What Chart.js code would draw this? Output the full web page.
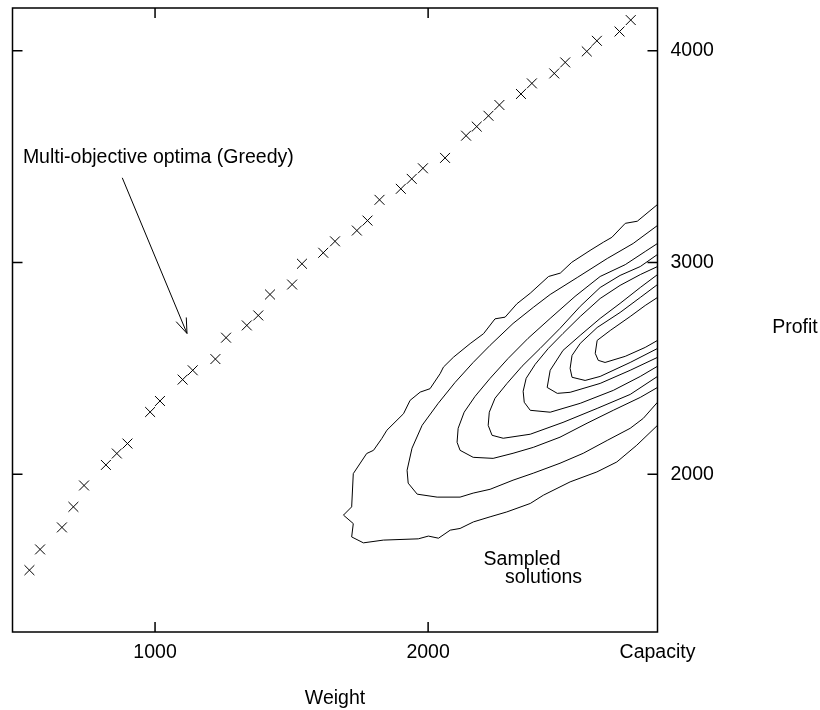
<!DOCTYPE html>
<html>
<head>
<meta charset="utf-8">
<title>Greedy optima vs sampled solutions</title>
<script src="https://cdn.jsdelivr.net/npm/chart.js@4.4.1/dist/chart.umd.min.js"></script>
<style>
  html, body { margin: 0; padding: 0; background: #fff; }
  #wrap { width: 820px; height: 710px; }
</style>
</head>
<body>
<div id="wrap"><canvas id="chart" width="820" height="710"></canvas></div>
<script>
// Axis ranges and ticks
const X_MIN = 478;
const CAPACITY = 2840;
const Y_MIN = 1255;
const Y_MAX = 4202;
const weightTicks = [1000, 2000, CAPACITY];
const profitTicks = [2000, 3000, 4000];

// Multi-objective optima found by the greedy method
const greedyWeight = [540, 579, 659, 701, 740, 820, 860, 899, 982, 1018,
    1101, 1138, 1221, 1260, 1336, 1378, 1421, 1502, 1538, 1616,
    1659, 1739, 1778, 1822, 1900, 1940, 1981, 2062, 2139, 2178,
    2221, 2261, 2340, 2380, 2462, 2502, 2581, 2618, 2701, 2742];
const greedyProfit = [1547, 1645, 1749, 1846, 1947, 2044, 2098, 2145, 2294, 2346,
    2447, 2491, 2544, 2645, 2703, 2750, 2849, 2896, 2994, 3046,
    3100, 3151, 3198, 3296, 3348, 3395, 3445, 3494, 3599, 3642,
    3693, 3744, 3796, 3846, 3893, 3945, 3997, 4047, 4091, 4145];

// Density contours of the sampled solutions, outer to inner, [weight, profit]
const contour1 = [[2840,3274],[2766,3195],[2722,3185],[2673,3119],[2642,3096],[2593,3057],[2526,3001],[2484,2950],
    [2441,2934],[2374,2855],[2325,2805],[2282,2742],[2245,2734],[2203,2664],[2154,2617],[2093,2553],[2056,2506],
    [2044,2475],[2007,2404],[1971,2388],[1934,2349],[1910,2286],[1849,2208],[1830,2168],[1800,2113],[1775,2098],
    [1726,2003],[1720,1846],[1690,1807],[1726,1767],[1720,1704],[1763,1676],[1836,1689],[1964,1695],[2001,1708],
    [2038,1698],[2081,1736],[2117,1744],[2166,1775],[2227,1799],[2288,1822],[2374,1862],[2422,1901],[2520,1964],
    [2618,2011],[2691,2058],[2764,2137],[2840,2231]];
const contour2 = [[2840,3175],[2751,3090],[2656,3019],[2546,2929],[2447,2849],[2385,2788],[2311,2712],[2227,2609],
    [2165,2528],[2099,2434],[2037,2335],[1978,2231],[1941,2123],[1923,2019],[1927,1958],[1960,1906],[2033,1892],
    [2117,1892],[2165,1911],[2227,1929],[2311,1972],[2385,2005],[2483,2052],[2568,2099],[2656,2160],[2740,2217],
    [2788,2264],[2840,2340]];
const contour3 = [[2840,3090],[2795,3052],[2722,2990],[2630,2934],[2538,2840],[2447,2736],[2366,2642],[2293,2547],
    [2227,2453],[2172,2368],[2132,2293],[2110,2217],[2106,2151],[2117,2113],[2165,2080],[2238,2075],[2311,2099],
    [2385,2127],[2483,2175],[2582,2241],[2678,2302],[2777,2363],[2840,2410]];
const contour4 = [[2840,3038],[2777,2981],[2703,2939],[2630,2882],[2557,2793],[2483,2689],[2410,2594],[2344,2510],
    [2289,2429],[2245,2359],[2224,2293],[2220,2231],[2234,2184],[2275,2170],[2374,2189],[2494,2245],[2619,2311],
    [2740,2377],[2840,2462]];
const contour5 = [[2840,2981],[2777,2943],[2703,2892],[2630,2830],[2557,2745],[2494,2665],[2440,2594],[2392,2519],
    [2359,2453],[2348,2392],[2352,2340],[2374,2302],[2447,2293],[2557,2335],[2678,2396],[2777,2462],[2840,2510]];
const contour6 = [[2840,2943],[2777,2882],[2703,2807],[2630,2736],[2557,2656],[2494,2585],[2447,2491],[2436,2410],
    [2473,2382],[2520,2387],[2630,2429],[2740,2491],[2840,2552]];
const contour7 = [[2840,2896],[2777,2835],[2703,2764],[2619,2693],[2557,2618],[2527,2561],[2520,2500],[2527,2458],
    [2575,2443],[2630,2462],[2740,2528],[2840,2594]];
const contour8 = [[2840,2835],[2795,2797],[2740,2745],[2667,2679],[2619,2632],[2612,2571],[2623,2538],[2648,2528],
    [2722,2557],[2795,2599],[2840,2632]];

// Annotation anchors in data units
const arrowFrom = [880, 3400];
const arrowTo = [1117, 2665];
const greedyLabelAt = [516, 3495];
const sampledLabelAt = [2203, 1599];
const solutionsLabelAt = [2282, 1512];

const FONT = "'Liberation Sans', Arial, Helvetica, sans-serif";
const FONT_SIZE = 19.5;
const TICK = 10;

Chart.defaults.font.family = FONT;
Chart.defaults.font.size = FONT_SIZE;
Chart.defaults.color = '#000';

const contours = [contour1, contour2, contour3, contour4, contour5, contour6, contour7, contour8];

const datasets = contours.map((c, i) => ({
    label: 'Contour ' + (i + 1),
    data: c.map(p => ({ x: p[0], y: p[1] })),
    showLine: true,
    borderColor: '#000',
    borderWidth: 1,
    pointRadius: 0,
    fill: false,
    tension: 0
}));

datasets.push({
    label: 'Multi-objective optima (Greedy)',
    data: greedyWeight.map((w, i) => ({ x: w, y: greedyProfit[i] })),
    showLine: false,
    pointStyle: 'crossRot',
    pointRadius: 7,
    borderColor: '#000',
    borderWidth: 1
});

// Frame with inward tick marks on all sides
const frame = {
    id: 'frame',
    afterDatasetsDraw(chart) {
        const { ctx, chartArea: a, scales: { x, y } } = chart;
        ctx.save();
        ctx.strokeStyle = '#000';
        ctx.lineWidth = 1.5;
        ctx.strokeRect(a.left, a.top, a.right - a.left, a.bottom - a.top);
        ctx.beginPath();
        weightTicks.slice(0, 2).forEach(v => {
            const px = x.getPixelForValue(v);
            ctx.moveTo(px, a.bottom);
            ctx.lineTo(px, a.bottom - TICK);
            ctx.moveTo(px, a.top);
            ctx.lineTo(px, a.top + TICK);
        });
        profitTicks.forEach(v => {
            const py = y.getPixelForValue(v);
            ctx.moveTo(a.left, py);
            ctx.lineTo(a.left + TICK, py);
            ctx.moveTo(a.right, py);
            ctx.lineTo(a.right - TICK, py);
        });
        ctx.stroke();
        ctx.restore();
    }
};

// Text notes and the arrow
const notes = {
    id: 'notes',
    afterDraw(chart) {
        const { ctx, scales: { x, y } } = chart;
        ctx.save();
        ctx.fillStyle = '#000';
        ctx.font = FONT_SIZE + 'px ' + FONT;
        ctx.textBaseline = 'middle';
        ctx.textAlign = 'left';
        ctx.fillText('Multi-objective optima (Greedy)', x.getPixelForValue(greedyLabelAt[0]), y.getPixelForValue(greedyLabelAt[1]));
        ctx.fillText('Sampled', x.getPixelForValue(sampledLabelAt[0]), y.getPixelForValue(sampledLabelAt[1]));
        ctx.fillText('solutions', x.getPixelForValue(solutionsLabelAt[0]), y.getPixelForValue(solutionsLabelAt[1]));

        // horizontal "Profit" title right of the axis labels
        ctx.textAlign = 'center';
        ctx.fillText('Profit', 795, 328);

        // arrow with open head
        const x0 = x.getPixelForValue(arrowFrom[0]), y0 = y.getPixelForValue(arrowFrom[1]);
        const x1 = x.getPixelForValue(arrowTo[0]), y1 = y.getPixelForValue(arrowTo[1]);
        const ang = Math.atan2(y1 - y0, x1 - x0);
        const head = 16, spread = Math.PI / 9;
        ctx.strokeStyle = '#000';
        ctx.lineWidth = 1;
        ctx.beginPath();
        ctx.moveTo(x0, y0);
        ctx.lineTo(x1, y1);
        ctx.moveTo(x1 - head * Math.cos(ang - spread), y1 - head * Math.sin(ang - spread));
        ctx.lineTo(x1, y1);
        ctx.lineTo(x1 - head * Math.cos(ang + spread), y1 - head * Math.sin(ang + spread));
        ctx.stroke();
        ctx.restore();
    }
};

new Chart(document.getElementById('chart').getContext('2d'), {
    type: 'scatter',
    data: { datasets: datasets },
    plugins: [frame, notes],
    options: {
        responsive: false,
        animation: false,
        devicePixelRatio: 1,
        layout: { padding: { left: 12.5, top: 7, right: 92.5, bottom: 0 } },
        plugins: {
            legend: { display: false },
            tooltip: { enabled: false }
        },
        scales: {
            x: {
                type: 'linear',
                position: 'bottom',
                min: X_MIN,
                max: CAPACITY,
                grid: { display: false, drawTicks: false },
                border: { display: false },
                ticks: {
                    padding: 9,
                    maxRotation: 0,
                    callback: v => (v === CAPACITY ? 'Capacity' : String(v))
                },
                afterBuildTicks: s => { s.ticks = weightTicks.map(v => ({ value: v })); },
                afterFit: s => { s.height = 78; s.paddingLeft = 0; s.paddingRight = 0; },
                title: { display: true, text: 'Weight', padding: { top: 10, bottom: 0 } }
            },
            y: {
                type: 'linear',
                position: 'right',
                min: Y_MIN,
                max: Y_MAX,
                grid: { display: false, drawTicks: false },
                border: { display: false },
                ticks: {
                    padding: 13,
                    callback: v => String(v)
                },
                afterBuildTicks: s => { s.ticks = profitTicks.map(v => ({ value: v })); },
                afterFit: s => { s.width = 70; s.paddingTop = 0; s.paddingBottom = 0; }
            }
        }
    }
});
</script>
</body>
</html>
